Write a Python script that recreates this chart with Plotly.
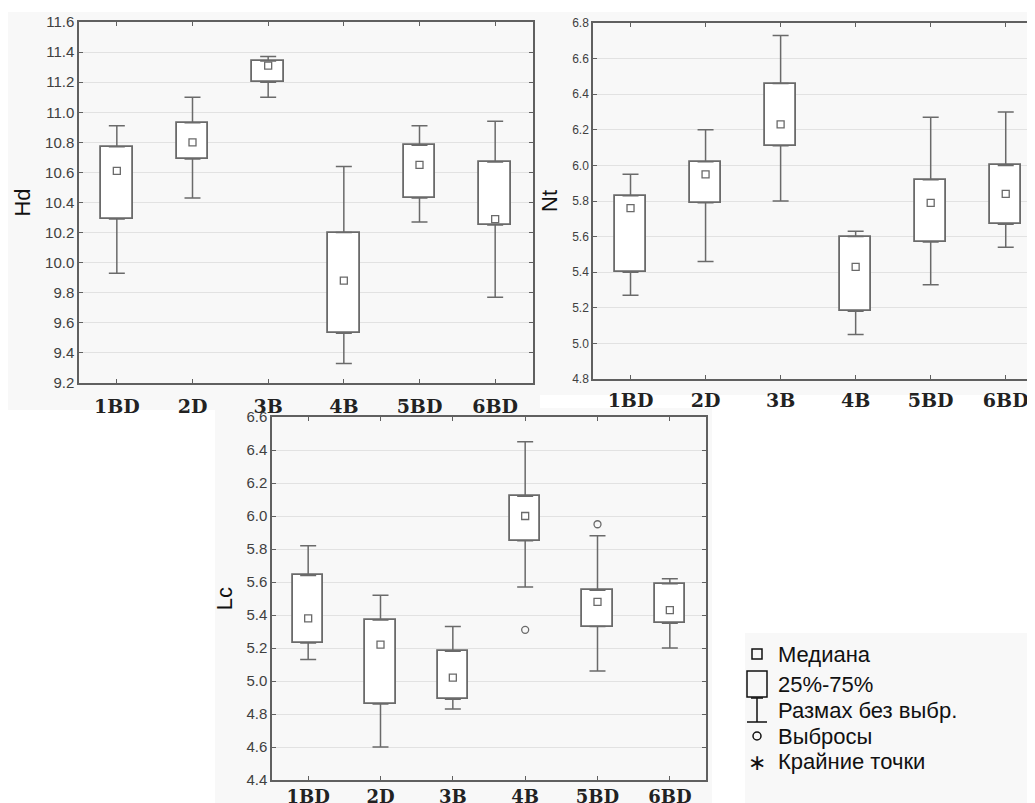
import plotly.graph_objects as go

categories = ["1BD", "2D", "3B", "4B", "5BD", "6BD"]

# Hd panel
hd_low = [9.93, 10.43, 11.10, 9.33, 10.27, 9.77]
hd_q1 = [10.29, 10.69, 11.20, 9.53, 10.43, 10.25]
hd_med = [10.61, 10.80, 11.31, 9.88, 10.65, 10.29]
hd_q3 = [10.77, 10.93, 11.34, 10.20, 10.78, 10.67]
hd_high = [10.91, 11.10, 11.37, 10.64, 10.91, 10.94]

# Nt panel
nt_low = [5.27, 5.46, 5.80, 5.05, 5.33, 5.54]
nt_q1 = [5.40, 5.79, 6.11, 5.18, 5.57, 5.67]
nt_med = [5.76, 5.95, 6.23, 5.43, 5.79, 5.84]
nt_q3 = [5.83, 6.02, 6.46, 5.60, 5.92, 6.00]
nt_high = [5.95, 6.20, 6.73, 5.63, 6.27, 6.30]

# Lc panel
lc_low = [5.13, 4.60, 4.83, 5.57, 5.06, 5.20]
lc_q1 = [5.23, 4.86, 4.89, 5.85, 5.33, 5.35]
lc_med = [5.38, 5.22, 5.02, 6.00, 5.48, 5.43]
lc_q3 = [5.64, 5.37, 5.18, 6.12, 5.55, 5.59]
lc_high = [5.82, 5.52, 5.33, 6.45, 5.88, 5.62]
lc_out_cat = ["4B", "5BD"]
lc_out_val = [5.31, 5.95]

legend_labels = ["Медиана", "25%-75%", "Размах без выбр.", "Выбросы", "Крайние точки"]

# page is offset by the 8px body margin
OFF = 8
W, H = 1035 - OFF, 803 - OFF
LINE = "#6a6a6a"


def fx(p):
    return (p - OFF) / W


def fy(p):
    return 1 - (p - OFF) / H


fig = go.Figure()


def add_panel(n, low, q1, med, q3, high):
    xa = "x" if n == 1 else f"x{n}"
    ya = "y" if n == 1 else f"y{n}"
    fig.add_trace(go.Bar(
        x=categories, y=[b - a for a, b in zip(q1, q3)], base=q1, width=0.42,
        marker=dict(color="white", line=dict(color=LINE, width=1.8)),
        xaxis=xa, yaxis=ya, showlegend=False, hoverinfo="skip"))
    fig.add_trace(go.Scatter(
        x=categories, y=q3, mode="markers",
        marker=dict(color="rgba(0,0,0,0)", size=1),
        error_y=dict(type="data", symmetric=False,
                     array=[h - q for h, q in zip(high, q3)],
                     arrayminus=[0] * len(q3), color=LINE, thickness=1.5, width=8),
        xaxis=xa, yaxis=ya, showlegend=False, hoverinfo="skip"))
    fig.add_trace(go.Scatter(
        x=categories, y=q1, mode="markers",
        marker=dict(color="rgba(0,0,0,0)", size=1),
        error_y=dict(type="data", symmetric=False,
                     array=[0] * len(q1),
                     arrayminus=[q - l for q, l in zip(q1, low)], color=LINE, thickness=1.5, width=8),
        xaxis=xa, yaxis=ya, showlegend=False, hoverinfo="skip"))
    fig.add_trace(go.Scatter(
        x=categories, y=med, mode="markers",
        marker=dict(symbol="square-open", size=7, color=LINE, line=dict(width=1.3)),
        xaxis=xa, yaxis=ya, showlegend=False))


add_panel(1, hd_low, hd_q1, hd_med, hd_q3, hd_high)
add_panel(2, nt_low, nt_q1, nt_med, nt_q3, nt_high)
add_panel(3, lc_low, lc_q1, lc_med, lc_q3, lc_high)

fig.add_trace(go.Scatter(
    x=lc_out_cat, y=lc_out_val, mode="markers",
    marker=dict(symbol="circle-open", size=7, color=LINE, line=dict(width=1.3)),
    xaxis="x3", yaxis="y3", showlegend=False))


def xaxis(domain, rng, anchor, standoff, fsize):
    return dict(domain=domain, range=rng, anchor=anchor, type="category",
                showline=True, linecolor="#606060", linewidth=1.5, mirror="ticks",
                ticks="inside", ticklen=4, tickcolor="#606060", automargin=False,
                showgrid=False,
                tickfont=dict(family="DejaVu Serif", size=fsize, color="#222222", weight="bold"),
                ticklabelstandoff=standoff, fixedrange=True)


def yaxis(domain, rng, anchor, title, fsize):
    return dict(domain=domain, range=rng, anchor=anchor, dtick=0.2, tickformat=".1f",
                showline=True, linecolor="#606060", linewidth=1.5, mirror="ticks",
                ticks="inside", ticklen=4, tickcolor="#606060", automargin=False,
                showgrid=True, gridcolor="#e2e2e2", gridwidth=1, zeroline=False,
                tickfont=dict(family="Liberation Sans", size=fsize, color="#404040"),
                title=dict(text=title, standoff=8,
                           font=dict(family="Liberation Sans", size=22, color="#111111")),
                fixedrange=True)


fig.update_layout(
    width=W, height=H,
    margin=dict(l=0, r=0, t=0, b=0, autoexpand=False),
    paper_bgcolor="white", plot_bgcolor="white",
    bargap=0,
    xaxis=xaxis([fx(79), fx(533)], [-0.5, 5.5], "y", 5, 19),
    yaxis=yaxis([fy(383), fy(22)], [9.2, 11.6], "x", "Hd", 15),
    xaxis2=xaxis([fx(593), 1.0], [-0.5, 5.39], "y2", 3, 19),
    yaxis2=yaxis([fy(379), fy(23)], [4.8, 6.8], "x2", "Nt", 12),
    xaxis3=xaxis([fx(272), fx(706)], [-0.5, 5.5], "y3", 0, 18),
    yaxis3=yaxis([fy(780), fy(417)], [4.4, 6.6], "x3", "Lc", 15),
)

# light panel backgrounds
bg = [(8, 540, 12, 410), (538, 1035, 12, 395), (215, 712, 408, 803), (745, 1035, 633, 803)]
for x0, x1, y0, y1 in bg:
    fig.add_shape(type="rect", xref="paper", yref="paper",
                  x0=fx(x0), x1=fx(x1), y0=fy(y1), y1=fy(y0),
                  fillcolor="#f8f8f8", line=dict(width=0), layer="below")

# legend
rows_y = [654, 684, 710, 736, 761]
SYM = "#111111"
cx = 757
# median square
fig.add_shape(type="rect", xref="paper", yref="paper",
              x0=fx(cx - 5), x1=fx(cx + 5), y0=fy(rows_y[0] + 5), y1=fy(rows_y[0] - 5),
              line=dict(color=SYM, width=1.5))
# box
fig.add_shape(type="rect", xref="paper", yref="paper",
              x0=fx(cx - 10), x1=fx(cx + 10), y0=fy(rows_y[1] + 13), y1=fy(rows_y[1] - 13),
              line=dict(color=SYM, width=1.5))
# whisker I-beam
ry = rows_y[2]
fig.add_shape(type="path", xref="paper", yref="paper",
              path=(f"M {fx(cx - 6)} {fy(ry - 12)} L {fx(cx + 6)} {fy(ry - 12)} "
                    f"M {fx(cx)} {fy(ry - 12)} L {fx(cx)} {fy(ry + 12)} "
                    f"M {fx(cx - 10)} {fy(ry + 12)} L {fx(cx + 10)} {fy(ry + 12)}"),
              line=dict(color=SYM, width=1.5))
# outlier circle
ry = rows_y[3]
fig.add_shape(type="circle", xref="paper", yref="paper",
              x0=fx(cx - 4), x1=fx(cx + 4), y0=fy(ry + 4), y1=fy(ry - 4),
              line=dict(color=SYM, width=1.5))
# extreme asterisk
fig.add_annotation(xref="paper", yref="paper", x=fx(cx), y=fy(rows_y[4] + 1),
                   text="∗", showarrow=False, xanchor="center", yanchor="middle",
                   font=dict(family="DejaVu Sans", size=22, color=SYM))

for ry, lab in zip(rows_y, legend_labels):
    fig.add_annotation(xref="paper", yref="paper", x=fx(776), y=fy(ry),
                       text=lab, showarrow=False, xanchor="left", yanchor="middle",
                       font=dict(family="Liberation Sans", size=22, color=SYM))

fig.write_html("out.html")
